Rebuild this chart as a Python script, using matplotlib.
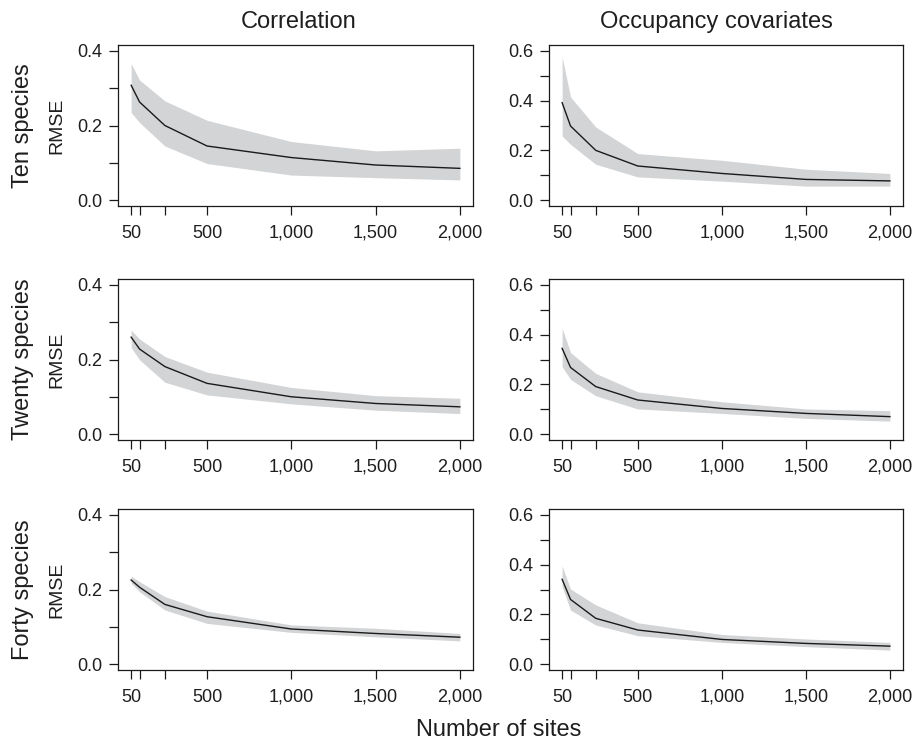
import matplotlib
matplotlib.use("Agg")
import matplotlib.pyplot as plt
from matplotlib.ticker import FixedLocator, FixedFormatter

plt.rcParams['font.family'] = ['Liberation Sans', 'DejaVu Sans']

# Number of sites simulated
sites = [50, 100, 250, 500, 1000, 1500, 2000]
x_ticks = [50, 100, 250, 500, 1000, 1500, 2000]
x_labels = ["50", "", "", "500", "1,000", "1,500", "2,000"]

col_titles = ["Correlation", "Occupancy covariates"]
row_titles = ["Ten species", "Twenty species", "Forty species"]

# RMSE: mean, lower and upper bound of the interval
ten_corr_mean = [0.308, 0.263, 0.200, 0.145, 0.114, 0.094, 0.085]
ten_corr_lo = [0.235, 0.208, 0.145, 0.098, 0.067, 0.060, 0.054]
ten_corr_hi = [0.366, 0.322, 0.266, 0.214, 0.157, 0.132, 0.139]

ten_occ_mean = [0.392, 0.298, 0.200, 0.137, 0.107, 0.083, 0.077]
ten_occ_lo = [0.258, 0.224, 0.144, 0.093, 0.076, 0.056, 0.056]
ten_occ_hi = [0.577, 0.415, 0.294, 0.187, 0.160, 0.124, 0.107]

twenty_corr_mean = [0.260, 0.228, 0.181, 0.136, 0.100, 0.082, 0.073]
twenty_corr_lo = [0.232, 0.199, 0.139, 0.105, 0.081, 0.064, 0.055]
twenty_corr_hi = [0.279, 0.255, 0.208, 0.166, 0.125, 0.103, 0.096]

twenty_occ_mean = [0.345, 0.268, 0.191, 0.137, 0.103, 0.083, 0.070]
twenty_occ_lo = [0.271, 0.220, 0.154, 0.101, 0.083, 0.063, 0.052]
twenty_occ_hi = [0.426, 0.328, 0.244, 0.170, 0.130, 0.101, 0.094]

forty_corr_mean = [0.2255, 0.206, 0.160, 0.127, 0.094, 0.082, 0.072]
forty_corr_lo = [0.217, 0.194, 0.145, 0.109, 0.085, 0.073, 0.062]
forty_corr_hi = [0.236, 0.221, 0.181, 0.142, 0.105, 0.096, 0.082]

forty_occ_mean = [0.341, 0.260, 0.184, 0.137, 0.099, 0.083, 0.072]
forty_occ_lo = [0.311, 0.217, 0.157, 0.114, 0.087, 0.070, 0.056]
forty_occ_hi = [0.395, 0.302, 0.238, 0.166, 0.119, 0.101, 0.087]

panels = [
    [(ten_corr_mean, ten_corr_lo, ten_corr_hi), (ten_occ_mean, ten_occ_lo, ten_occ_hi)],
    [(twenty_corr_mean, twenty_corr_lo, twenty_corr_hi), (twenty_occ_mean, twenty_occ_lo, twenty_occ_hi)],
    [(forty_corr_mean, forty_corr_lo, forty_corr_hi), (forty_occ_mean, forty_occ_lo, forty_occ_hi)],
]

y_max = [0.4, 0.6]
y_major = [[0.0, 0.2, 0.4], [0.0, 0.2, 0.4, 0.6]]

W, H = 919, 742
fig = plt.figure(figsize=(W / 100, H / 100), dpi=100)

col_px = [(118, 473), (549, 903)]
row_px = [(45, 206), (279, 440), (509, 670)]
title_cx = [299, 716]

band_color = "#d3d4d6"
ink = "#1a1a1a"
text_color = "#1e1e1e"

for r, (top, bot) in enumerate(row_px):
    for c, (left, right) in enumerate(col_px):
        ax = fig.add_axes([left / W, 1 - bot / H, (right - left) / W, (bot - top) / H])
        mean, lo, hi = panels[r][c]
        ax.fill_between(sites, lo, hi, color=band_color, linewidth=0)
        ax.plot(sites, mean, color=ink, linewidth=1.0)

        pad_x = 0.04 * (sites[-1] - sites[0])
        ax.set_xlim(sites[0] - pad_x, sites[-1] + pad_x)
        ym = y_max[c]
        ax.set_ylim(-0.04 * ym, ym * 1.04)

        ax.xaxis.set_major_locator(FixedLocator(x_ticks))
        ax.xaxis.set_major_formatter(FixedFormatter(x_labels))
        yt = [round(v * 0.1, 1) for v in range(int(round(ym * 10)) + 1)]
        ax.yaxis.set_major_locator(FixedLocator(yt))
        ax.yaxis.set_major_formatter(FixedFormatter(
            [f"{v:.1f}" if any(abs(v - m) < 1e-9 for m in y_major[c]) else "" for v in yt]))

        ax.tick_params(axis='both', direction='out', length=6.5, width=0.9,
                       colors=ink, labelsize=13, labelcolor=text_color)
        ax.tick_params(axis='x', pad=7)
        ax.tick_params(axis='y', pad=4.5)
        for s in ax.spines.values():
            s.set_linewidth(0.9)
            s.set_color(ink)

        if r == 0:
            fig.text(title_cx[c] / W, 1 - 28.3 / H, col_titles[c],
                     ha='center', va='baseline', fontsize=17, color=text_color)
        if c == 0:
            yc = 1 - ((top + bot) / 2) / H
            fig.text(29.5 / W, yc, row_titles[r], rotation=90, rotation_mode='anchor',
                     ha='center', va='baseline', fontsize=17, color=text_color)
            fig.text(61.5 / W, yc, "RMSE", rotation=90, rotation_mode='anchor',
                     ha='center', va='baseline', fontsize=14, color=text_color)

fig.text(499 / W, 1 - 736 / H, "Number of sites", ha='center', va='baseline',
         fontsize=17, color=text_color)

fig.savefig("out.png", dpi=100)
